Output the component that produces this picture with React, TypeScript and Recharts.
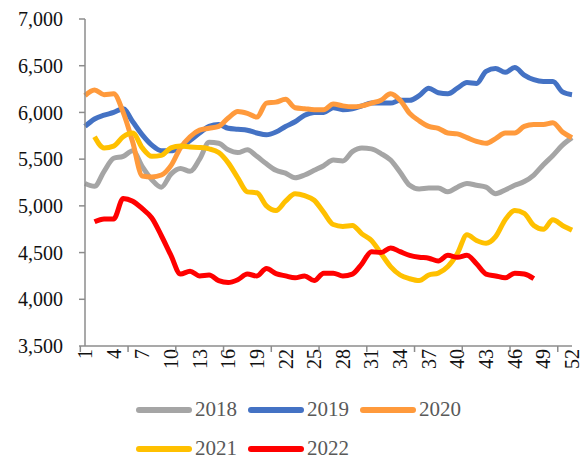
import { LineChart, Line, XAxis, YAxis, Legend } from "recharts";

const CHART_W = 580;
const CHART_H = 457;
const MARGIN = { top: 19, right: 8, left: 0, bottom: 0 };
const Y_AXIS_W = 85;
const FONT = "'Liberation Serif', 'Times New Roman', serif";

const WEEKS = [
  1, 2, 3, 4, 5, 6, 7, 8, 9, 10, 11, 12, 13, 14, 15, 16, 17, 18, 19, 20, 21, 22, 23, 24, 25, 26,
  27, 28, 29, 30, 31, 32, 33, 34, 35, 36, 37, 38, 39, 40, 41, 42, 43, 44, 45, 46, 47, 48, 49, 50,
  51, 52,
];

const Y_TICKS = [3500, 4000, 4500, 5000, 5500, 6000, 6500, 7000];

const S2018 = [
  5240, 5210, 5370, 5510, 5530, 5590, 5420, 5280, 5200, 5340, 5400, 5370, 5500, 5680, 5670, 5600,
  5570, 5600, 5530, 5450, 5380, 5350, 5300, 5330, 5380, 5430, 5490, 5480, 5580, 5620, 5610, 5560,
  5490, 5360, 5220, 5180, 5190, 5190, 5150, 5200, 5240, 5220, 5200, 5130, 5170, 5220, 5260, 5330,
  5440, 5540, 5650, 5730,
];

const S2019 = [
  5850, 5930, 5970, 6000, 6040, 5900, 5760, 5650, 5590, 5590, 5630, 5700, 5780, 5850, 5870, 5830,
  5820, 5810, 5780, 5760, 5790, 5850, 5900, 5970, 6000, 6000, 6050, 6030, 6040, 6070, 6100, 6100,
  6100, 6130, 6130, 6180, 6260, 6210, 6200, 6260, 6320, 6310, 6440, 6470, 6430, 6480, 6400, 6350,
  6330, 6330, 6220, 6190,
];

const S2020 = [
  6180, 6240, 6190, 6200, 6000, 5680, 5320, 5310, 5330, 5430, 5620, 5740, 5810, 5830, 5850, 5940,
  6010, 5990, 5950, 6100, 6110, 6140, 6050, 6040, 6030, 6030, 6090, 6070, 6060, 6070, 6100, 6130,
  6200, 6130, 5990, 5910, 5850, 5830, 5780, 5770, 5730, 5690, 5670, 5720, 5780, 5780, 5850, 5870,
  5870, 5890, 5790, 5730,
];

const S2021 = [
  null, 5740, 5620, 5640, 5740, 5780, 5620, 5530, 5540, 5620, 5640, 5630, 5625, 5610, 5570, 5460,
  5300, 5150, 5140, 5000, 4950, 5050, 5130, 5110, 5060, 4930, 4800, 4780, 4790, 4700, 4630, 4490,
  4350, 4260, 4220, 4200, 4260, 4280, 4350, 4490, 4690, 4630, 4600, 4670, 4850, 4950, 4920, 4790,
  4750, 4850, 4790, 4740,
];

const S2022 = [
  null, 4830, 4860, 4860, 5080, 5050, 4970, 4870, 4680, 4470, 4270, 4300, 4250, 4260, 4200, 4180,
  4210, 4270, 4250, 4330, 4275, 4250, 4230, 4250, 4200, 4280, 4280, 4250, 4270, 4380, 4510, 4500,
  4550, 4510, 4470, 4450, 4440, 4410, 4470, 4450, 4470, 4380, 4270, 4250, 4230, 4280, 4270, 4220,
  null, null, null, null,
];

const SERIES = [
  { key: "2018", values: S2018, color: "#A5A5A5" },
  { key: "2019", values: S2019, color: "#4472C4" },
  { key: "2020", values: S2020, color: "#FF9A3C" },
  { key: "2021", values: S2021, color: "#FFC000" },
  { key: "2022", values: S2022, color: "#FF0000" },
];

const data = WEEKS.map((week, i) => {
  const row: Record<string, number | string | null> = { week: String(week) };
  SERIES.forEach((s) => {
    row[s.key] = s.values[i];
  });
  return row;
});

const AXIS_COLOR = "#8C8C8C";
const PLOT_W = CHART_W - MARGIN.left - MARGIN.right - Y_AXIS_W;

// labels every 3rd week, tick marks every 5th category boundary (Excel style)
function WeekTick(props: any) {
  const { x, y, payload, index } = props;
  const step = PLOT_W / WEEKS.length;
  const bx = x - step / 2;
  return (
    <g>
      {index % 5 === 0 && <line x1={bx} y1={y} x2={bx} y2={y + 6} stroke={AXIS_COLOR} strokeWidth={1.5} />}
      {index % 3 === 0 && (
        <text
          x={x}
          y={y + 3}
          transform={`rotate(-90, ${x}, ${y + 3})`}
          textAnchor="end"
          dy="0.35em"
          fontSize={20}
          fontFamily={FONT}
          fill="#111"
        >
          {payload.value}
        </text>
      )}
    </g>
  );
}

function LegendRows({ payload }: any) {
  return (
    <div
      style={{
        height: 71,
        paddingTop: 4,
        paddingLeft: 136,
        boxSizing: "border-box",
        display: "flex",
        flexWrap: "wrap",
        width: 136 + 3 * 112,
        fontFamily: FONT,
      }}
    >
      {(payload || []).map((p: any) => (
        <div key={p.value} style={{ display: "flex", alignItems: "center", width: 112, height: 39 }}>
          <span
            style={{
              display: "inline-block",
              width: 56,
              height: 6,
              borderRadius: 3,
              background: p.color,
              marginRight: 3,
            }}
          />
          <span style={{ fontSize: 21, color: "#595959", lineHeight: "39px" }}>{p.value}</span>
        </div>
      ))}
    </div>
  );
}

export default function App() {
  return (
    <div style={{ position: "absolute", left: 0, top: 0, width: CHART_W, height: CHART_H, background: "#fff" }}>
      <LineChart width={CHART_W} height={CHART_H} data={data} margin={MARGIN}>
        <XAxis
          dataKey="week"
          interval={0}
          tick={<WeekTick />}
          tickLine={false}
          tickSize={0}
          tickMargin={0}
          height={40}
          axisLine={{ stroke: AXIS_COLOR, strokeWidth: 1.5 }}
        />
        <YAxis
          width={Y_AXIS_W}
          domain={[3500, 7000]}
          ticks={Y_TICKS}
          interval={0}
          allowDataOverflow
          tickFormatter={(v: number) => v.toLocaleString("en-US")}
          tick={{ fontSize: 20, fontFamily: FONT, fill: "#111" }}
          tickSize={6}
          tickMargin={16}
          tickLine={{ stroke: AXIS_COLOR, strokeWidth: 1.5 }}
          axisLine={{ stroke: AXIS_COLOR, strokeWidth: 1.5 }}
        />
        <Legend verticalAlign="bottom" align="left" content={<LegendRows />} />
        {SERIES.map((s) => (
          <Line
            key={s.key}
            type="monotone"
            dataKey={s.key}
            name={s.key}
            stroke={s.color}
            strokeWidth={5}
            dot={false}
            activeDot={false}
            connectNulls={false}
            isAnimationActive={false}
          />
        ))}
      </LineChart>
    </div>
  );
}
